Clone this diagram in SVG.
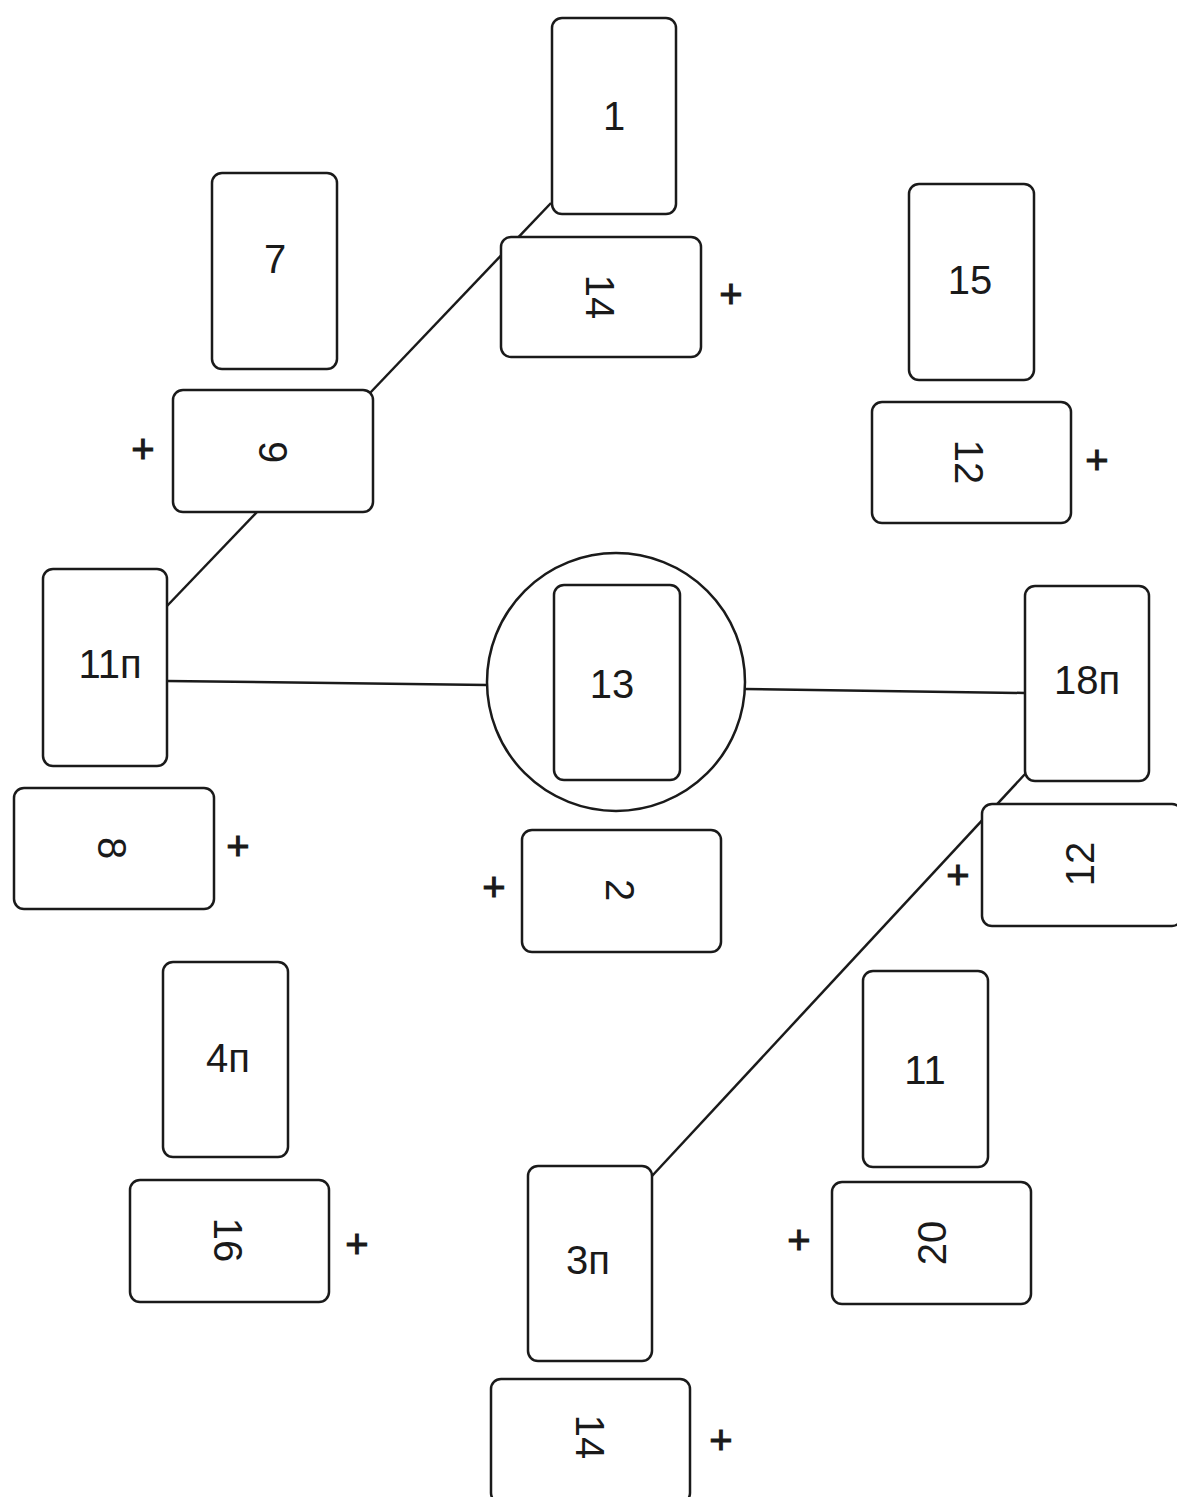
<svg xmlns="http://www.w3.org/2000/svg" width="1177" height="1497" viewBox="0 0 1177 1497">
<style>
.card{fill:#fff;stroke:#1a1a1a;stroke-width:2.5}
.lbl{font-family:"Liberation Sans",Arial,sans-serif;font-size:40px;fill:#1a1a1a;text-anchor:middle;dominant-baseline:central}
.plus{font-family:"Liberation Sans",Arial,sans-serif;font-size:40px;fill:#1a1a1a;stroke:#1a1a1a;stroke-width:1;text-anchor:middle;dominant-baseline:central}
.conn{stroke:#1a1a1a;stroke-width:2.5;fill:none}
</style>
<rect width="1177" height="1497" fill="#fff"/>
<g id="connectors">
<line class="conn" x1="551" y1="203" x2="370" y2="393"/>
<line class="conn" x1="257" y1="512" x2="167" y2="606"/>
<line class="conn" x1="167" y1="681" x2="487" y2="685"/>
<line class="conn" x1="745" y1="689" x2="1025" y2="693"/>
<line class="conn" x1="1026" y1="773" x2="652" y2="1176"/>
</g>
<g id="n1"><rect class="card" x="552" y="18" width="124" height="196" rx="10"/><text class="lbl" x="614" y="116">1</text></g>
<g id="n14a"><rect class="card" x="501" y="237" width="200" height="120" rx="10"/><text class="lbl" transform="translate(600,297) rotate(90)">14</text><text class="plus" x="731" y="294">+</text></g>
<g id="n7"><rect class="card" x="212" y="173" width="125" height="196" rx="10"/><text class="lbl" x="275" y="259">7</text></g>
<g id="n9"><rect class="card" x="173" y="390" width="200" height="122" rx="10"/><text class="lbl" transform="translate(273,452) rotate(90)">9</text><text class="plus" x="143" y="449">+</text></g>
<g id="n15"><rect class="card" x="909" y="184" width="125" height="196" rx="10"/><text class="lbl" x="970" y="280">15</text></g>
<g id="n12a"><rect class="card" x="872" y="402" width="199" height="121" rx="10"/><text class="lbl" transform="translate(969,462) rotate(90)">12</text><text class="plus" x="1097" y="460">+</text></g>
<g id="n11p"><rect class="card" x="43" y="569" width="124" height="197" rx="10"/><text class="lbl" x="110" y="664">11п</text></g>
<g id="n8"><rect class="card" x="14" y="788" width="200" height="121" rx="10"/><text class="lbl" transform="translate(112,848) rotate(90)">8</text><text class="plus" x="238" y="846">+</text></g>
<g id="n13"><circle class="card" cx="616" cy="682" r="129"/><rect class="card" x="554" y="585" width="126" height="195" rx="10"/><text class="lbl" x="612" y="684">13</text></g>
<g id="n2"><rect class="card" x="522" y="830" width="199" height="122" rx="10"/><text class="lbl" transform="translate(620,890) rotate(90)">2</text><text class="plus" x="494" y="887">+</text></g>
<g id="n18p"><rect class="card" x="1025" y="586" width="124" height="195" rx="10"/><text class="lbl" x="1087" y="680">18п</text></g>
<g id="n12b"><rect class="card" x="982" y="804" width="200" height="122" rx="10"/><text class="lbl" transform="translate(1080,864) rotate(-90)">12</text><text class="plus" x="958" y="875">+</text></g>
<g id="n4p"><rect class="card" x="163" y="962" width="125" height="195" rx="10"/><text class="lbl" x="228" y="1058">4п</text></g>
<g id="n16"><rect class="card" x="130" y="1180" width="199" height="122" rx="10"/><text class="lbl" transform="translate(228,1240) rotate(90)">16</text><text class="plus" x="357" y="1244">+</text></g>
<g id="n11"><rect class="card" x="863" y="971" width="125" height="196" rx="10"/><text class="lbl" x="925" y="1070">11</text></g>
<g id="n20"><rect class="card" x="832" y="1182" width="199" height="122" rx="10"/><text class="lbl" transform="translate(932,1243) rotate(-90)">20</text><text class="plus" x="799" y="1240">+</text></g>
<g id="n3p"><rect class="card" x="528" y="1166" width="124" height="195" rx="10"/><text class="lbl" x="588" y="1260">3п</text></g>
<g id="n14b"><rect class="card" x="491" y="1379" width="199" height="124" rx="10"/><text class="lbl" transform="translate(590,1437) rotate(90)">14</text><text class="plus" x="721" y="1440">+</text></g>
</svg>
